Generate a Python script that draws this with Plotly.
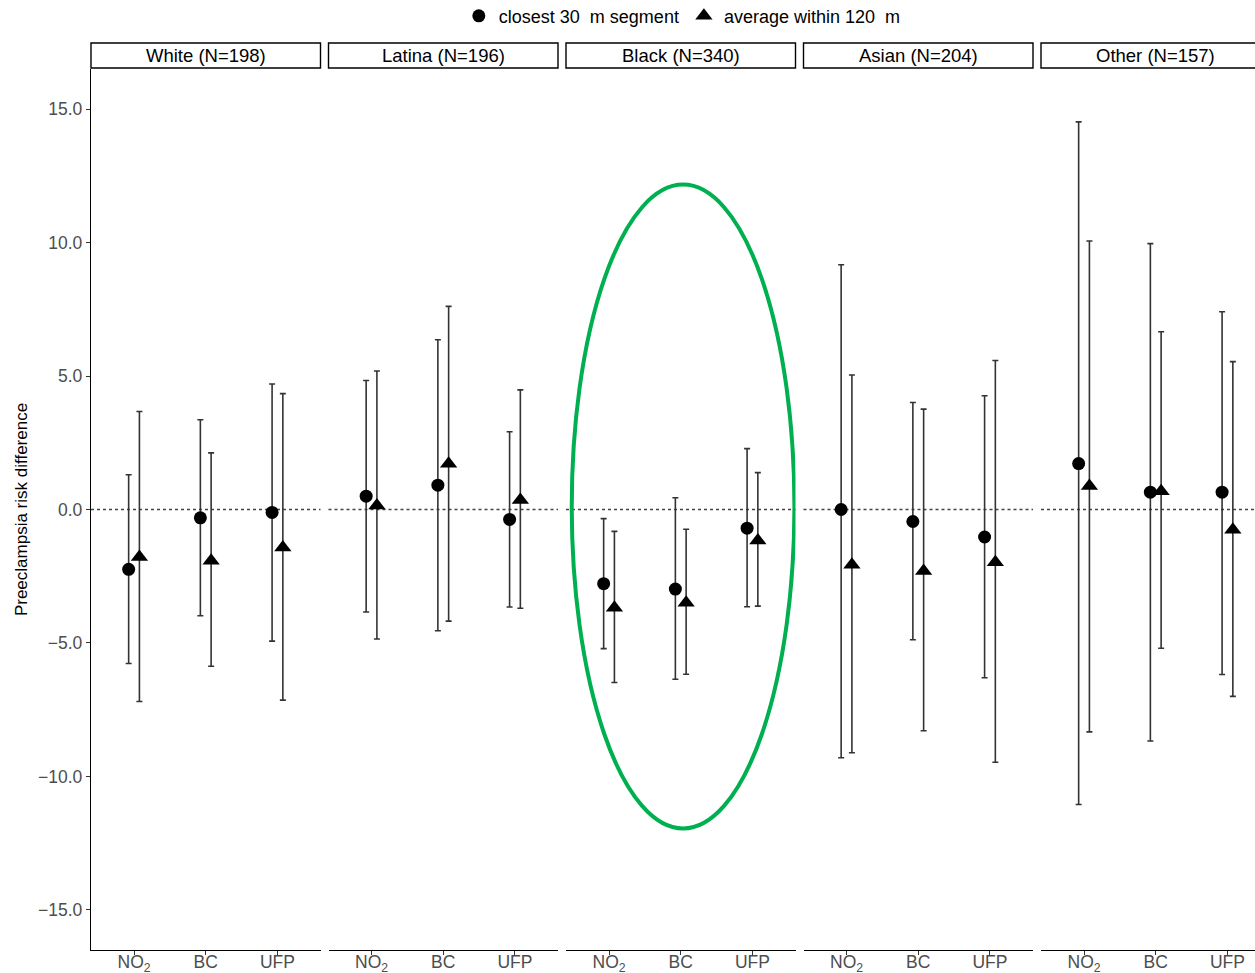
import plotly.graph_objects as go

# ---- data -------------------------------------------------------------
groups = ["White (N=198)", "Latina (N=196)", "Black (N=340)", "Asian (N=204)", "Other (N=157)"]
pollutants = ["NO<sub>2</sub>", "BC", "UFP"]

# closest 30 m segment: estimate and 95% CI (per group, per pollutant)
closest_est = [
    [-2.24, -0.31, -0.11],
    [0.50, 0.91, -0.37],
    [-2.78, -2.98, -0.70],
    [0.00, -0.45, -1.03],
    [1.72, 0.65, 0.65],
]
closest_lo = [
    [-5.77, -3.98, -4.93],
    [-3.84, -4.54, -3.65],
    [-5.21, -6.36, -3.64],
    [-9.30, -4.88, -6.30],
    [-11.05, -8.67, -6.18],
]
closest_hi = [
    [1.30, 3.36, 4.70],
    [4.83, 6.36, 2.91],
    [-0.34, 0.44, 2.28],
    [9.17, 4.01, 4.26],
    [14.52, 9.96, 7.41],
]

# average within 120 m: estimate and 95% CI
avg_est = [
    [-1.78, -1.92, -1.42],
    [0.15, 1.71, 0.36],
    [-3.68, -3.49, -1.16],
    [-2.07, -2.30, -1.98],
    [0.88, 0.68, -0.76],
]
avg_lo = [
    [-7.19, -5.87, -7.14],
    [-4.85, -4.18, -3.70],
    [-6.48, -6.17, -3.62],
    [-9.11, -8.29, -9.47],
    [-8.33, -5.20, -7.00],
]
avg_hi = [
    [3.67, 2.12, 4.34],
    [5.19, 7.61, 4.48],
    [-0.82, -0.74, 1.38],
    [5.04, 3.76, 5.58],
    [10.06, 6.66, 5.54],
]

series_names = ["closest 30\u00a0 m segment", "average within 120\u00a0 m"]

# ---- layout geometry --------------------------------------------------
W, H = 1255, 973
ML, MR, MT, MB = 91, 0, 69, 23
plot_w = W - ML - MR
plot_h = H - MT - MB
panel_w = 229.5
panel_step = 237.5
xlo, xhi = 0.4, 3.6
unit_px = panel_w / (xhi - xlo)
dodge = 0.075
FONT = "Liberation Sans, Arial, sans-serif"

# highlighted group outline (data units of the Black panel)
hl_x = (0.48, 3.585)
hl_y = (-11.95, 12.17)

fig = go.Figure()
shapes = []
annotations = []

for i, g in enumerate(groups):
    ax = "" if i == 0 else str(i + 1)
    x0px = i * panel_step
    x1px = x0px + panel_w
    d0 = x0px / plot_w
    d1 = min(x1px / plot_w, 1.0)
    right = xlo + (d1 * plot_w - x0px) / unit_px
    xs = [1, 2, 3]

    est_sets = [
        (closest_est[i], closest_lo[i], closest_hi[i], "circle", 13, -dodge),
        (avg_est[i], avg_lo[i], avg_hi[i], "triangle-up", 15, dodge),
    ]
    for k, (est, lo, hi, sym, size, off) in enumerate(est_sets):
        fig.add_trace(go.Scatter(
            x=[x + off for x in xs],
            y=est,
            mode="markers",
            name=series_names[k],
            legendgroup=series_names[k],
            showlegend=(i == 0),
            marker=dict(symbol=sym, size=size, color="black"),
            error_y=dict(
                type="data", symmetric=False,
                array=[h - e for h, e in zip(hi, est)],
                arrayminus=[e - l for e, l in zip(est, lo)],
                color="#333333", thickness=1.6, width=3,
            ),
            xaxis="x" + ax, yaxis="y",
            hoverinfo="skip",
        ))

    fig.update_layout(**{
        "xaxis" + ax: dict(
            domain=[d0, d1], range=[xlo, right], anchor="y",
            tickmode="array", tickvals=xs, ticktext=pollutants,
            showline=True, linecolor="black", linewidth=1.3,
            ticks="outside", ticklen=4, tickcolor="#333333", tickwidth=1.1,
            ticklabelstandoff=-8,
            tickfont=dict(size=17.5, color="#4d4d4d", family=FONT),
            showgrid=False, zeroline=False, fixedrange=True, automargin=False,
        )
    })

    # dotted reference line at zero
    shapes.append(dict(
        type="line", xref="x" + ax + " domain", yref="y",
        x0=0, x1=1, y0=0, y1=0,
        line=dict(color="#444444", width=1.3, dash="dot"), layer="below",
    ))

    # facet strip
    sx0 = x0px / plot_w
    sx1 = x1px / plot_w
    sy0 = (H - MB - 68) / plot_h
    sy1 = (H - MB - 43) / plot_h
    shapes.append(dict(
        type="rect", xref="paper", yref="paper",
        x0=sx0, x1=sx1, y0=sy0, y1=sy1,
        line=dict(color="black", width=1.4), fillcolor="white",
    ))
    annotations.append(dict(
        text=g, xref="paper", yref="paper",
        x=(sx0 + sx1) / 2, y=(sy0 + sy1) / 2,
        xanchor="center", yanchor="middle", showarrow=False,
        font=dict(size=18.5, color="black", family=FONT),
    ))

# outline around the Black group
shapes.append(dict(
    type="circle", xref="x3", yref="y",
    x0=hl_x[0], x1=hl_x[1], y0=hl_y[0], y1=hl_y[1],
    line=dict(color="#00b050", width=4),
))

fig.update_layout(
    width=W, height=H,
    margin=dict(l=ML, r=MR, t=MT, b=MB, autoexpand=False),
    paper_bgcolor="white", plot_bgcolor="rgba(0,0,0,0)",
    font=dict(family=FONT, color="black"),
    yaxis=dict(
        domain=[0, 1], range=[-16.5, 16.5], anchor="x",
        tick0=0, dtick=5, tickformat=".1f",
        showline=True, linecolor="black", linewidth=1.3,
        ticks="outside", ticklen=4, tickcolor="#333333", tickwidth=1.1,
        tickfont=dict(size=17.5, color="#4d4d4d", family=FONT),
        title=dict(text="Preeclampsia risk difference",
                   font=dict(size=17, color="black", family=FONT), standoff=6),
        showgrid=False, zeroline=False, fixedrange=True, automargin=False,
    ),
    legend=dict(
        orientation="h", x=0.508, xanchor="center", y=1.06, yanchor="middle",
        font=dict(size=18, color="black", family=FONT),
        bgcolor="rgba(0,0,0,0)", itemwidth=30, tracegroupgap=0,
    ),
    shapes=shapes,
    annotations=annotations,
)

fig.write_html("out.html")
